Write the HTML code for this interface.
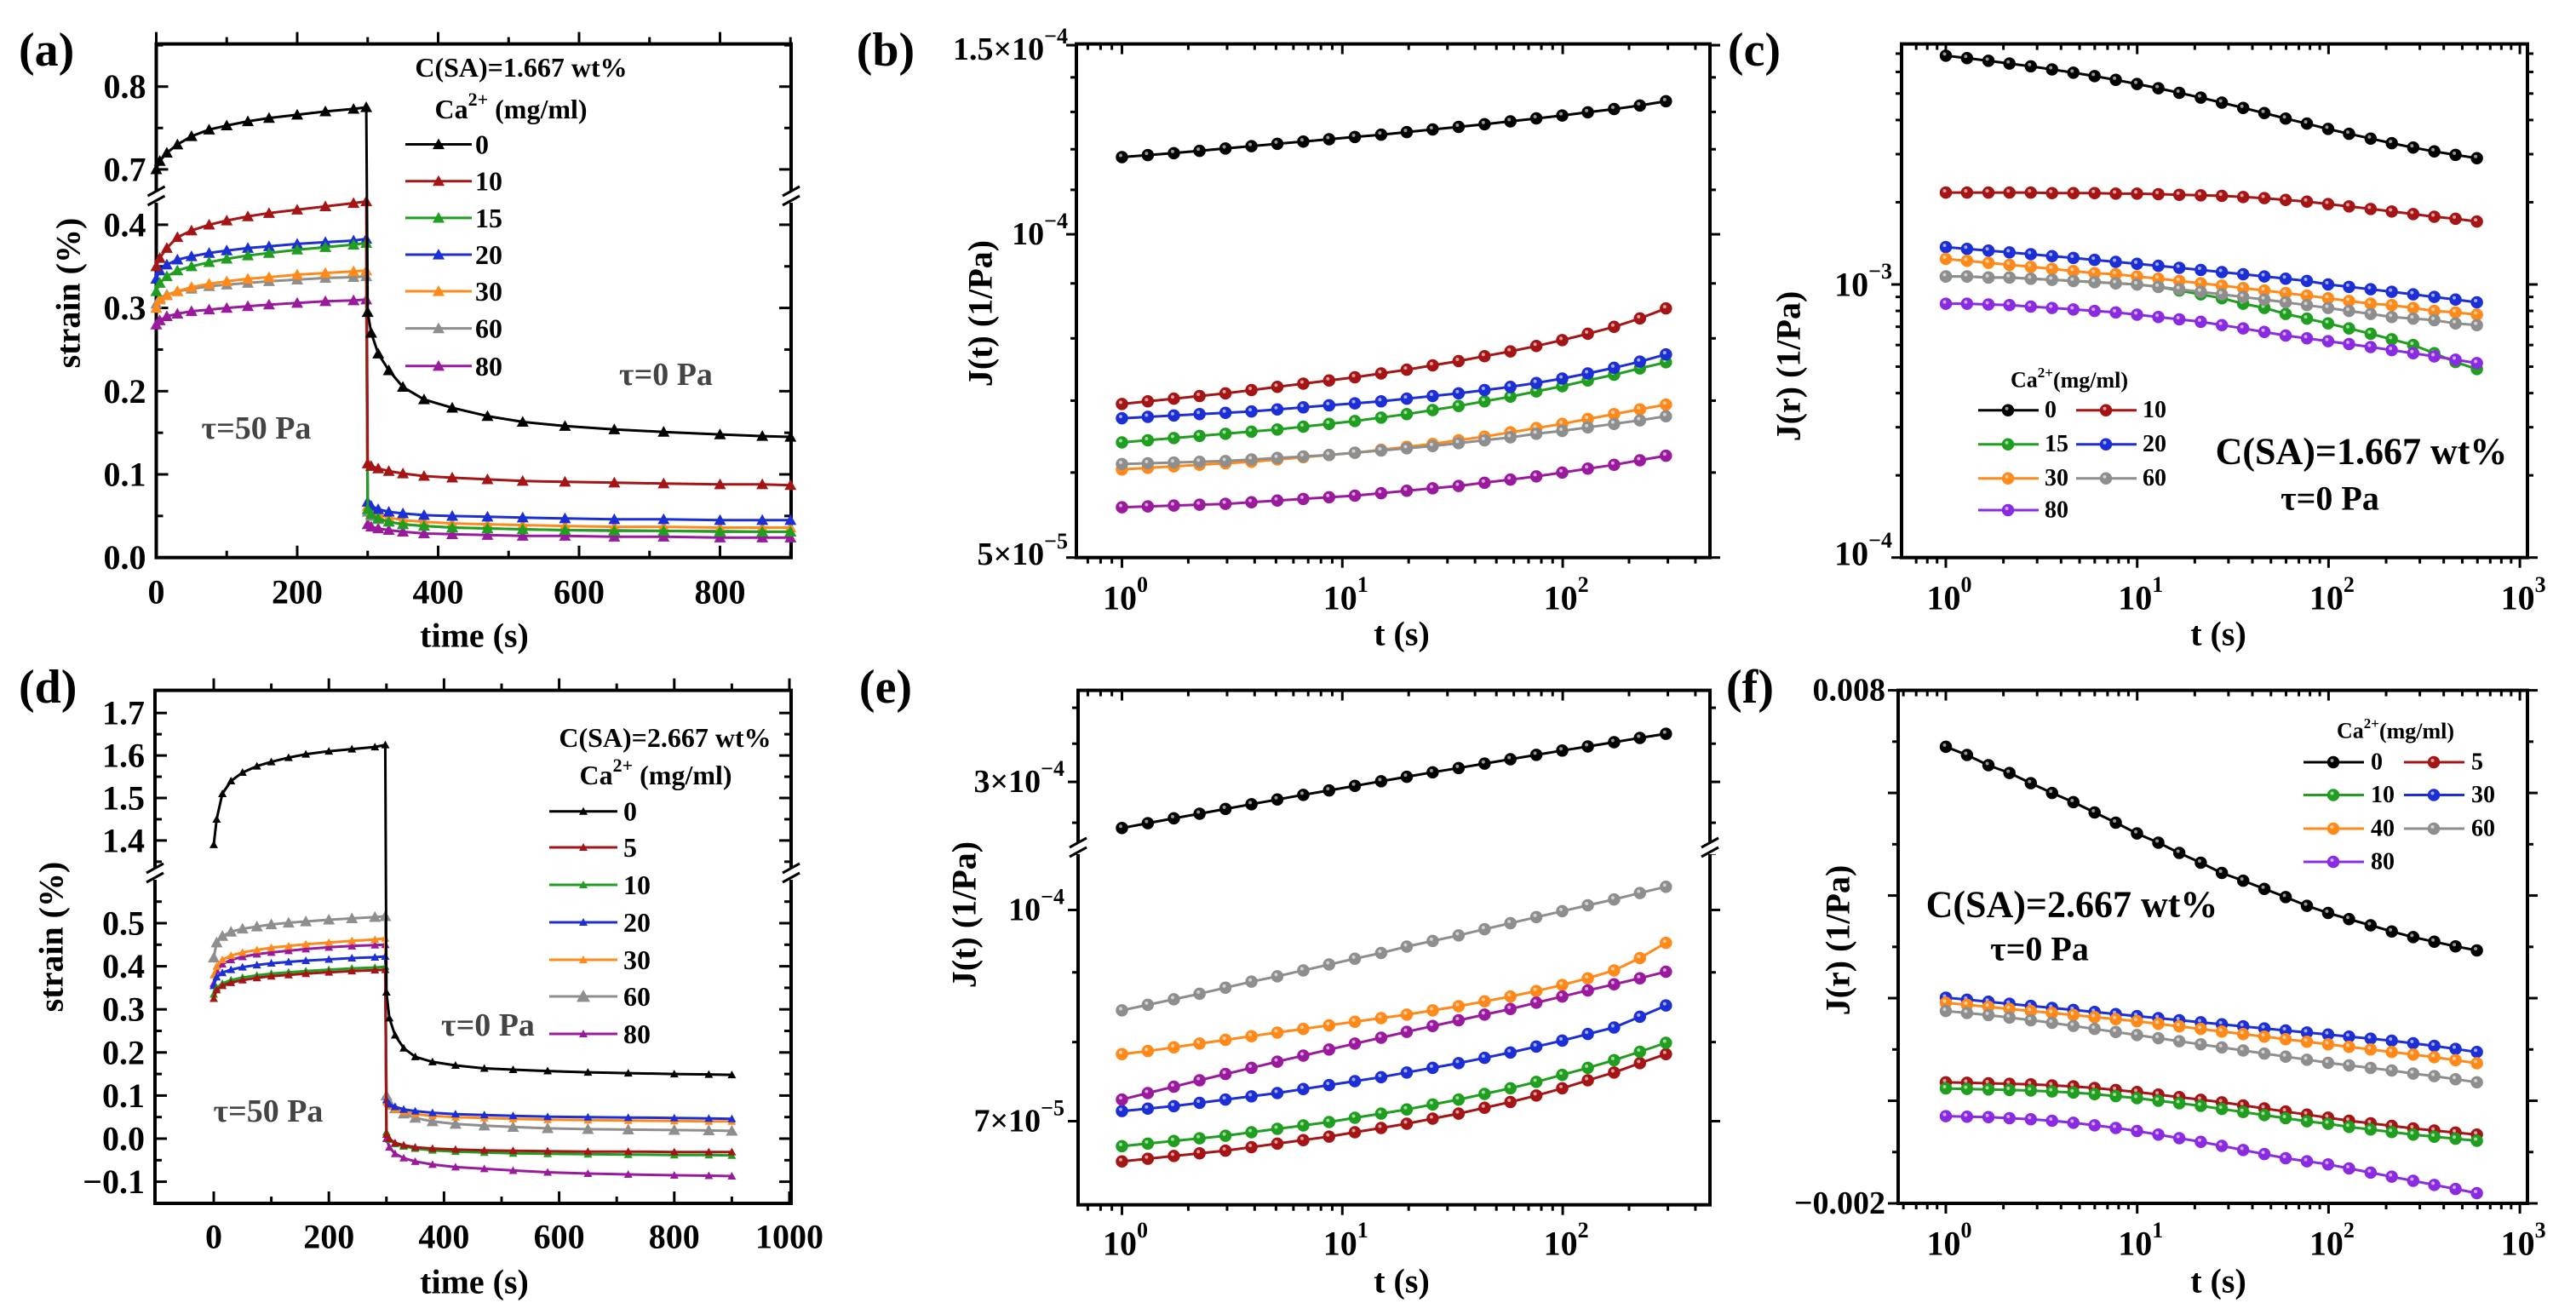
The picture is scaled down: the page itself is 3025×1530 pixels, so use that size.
<!DOCTYPE html>
<html><head><meta charset="utf-8"><title>Creep and recovery figure</title>
<style>html,body{margin:0;padding:0;background:#fff}svg{display:block}text{font-family:"Liberation Serif",serif;font-weight:bold;fill:#000}</style>
</head><body>
<svg id="fig" xmlns="http://www.w3.org/2000/svg" width="3025" height="1530" viewBox="0 0 3025 1530"></svg>
<script>
// ---------- DATA ----------
const tCR = [0,5,15,30,50,75,100,130,160,200,240,280,298,300,305,315,330,350,380,420,470,520,580,650,720,800,860,900];
const concA = ['0','10','15','20','30','60','80'];
const aS0  = [0.700,0.710,0.720,0.730,0.740,0.748,0.753,0.758,0.762,0.766,0.770,0.773,0.775, 0.295,0.270,0.245,0.225,0.205,0.190,0.180,0.170,0.163,0.158,0.154,0.151,0.148,0.146,0.145];
const aS10 = [0.350,0.360,0.372,0.385,0.393,0.400,0.405,0.410,0.414,0.418,0.422,0.426,0.428, 0.113,0.110,0.107,0.104,0.101,0.098,0.096,0.094,0.092,0.091,0.090,0.089,0.088,0.088,0.087];
const aS15 = [0.320,0.330,0.338,0.345,0.350,0.355,0.359,0.363,0.366,0.370,0.373,0.376,0.378, 0.058,0.052,0.047,0.043,0.040,0.038,0.036,0.035,0.034,0.033,0.032,0.032,0.031,0.031,0.031];
const aS20 = [0.335,0.345,0.352,0.358,0.362,0.366,0.369,0.372,0.374,0.377,0.379,0.381,0.383, 0.067,0.062,0.058,0.055,0.053,0.051,0.050,0.049,0.048,0.047,0.046,0.046,0.045,0.045,0.045];
const aS30 = [0.300,0.310,0.315,0.320,0.325,0.329,0.332,0.335,0.337,0.340,0.342,0.344,0.345, 0.062,0.057,0.052,0.048,0.045,0.043,0.041,0.040,0.039,0.038,0.037,0.037,0.036,0.036,0.036];
const aS60 = [0.305,0.312,0.316,0.320,0.323,0.326,0.328,0.330,0.332,0.334,0.336,0.337,0.338, 0.055,0.050,0.046,0.043,0.040,0.038,0.036,0.035,0.034,0.033,0.033,0.032,0.032,0.031,0.031];
const aS80 = [0.280,0.285,0.290,0.293,0.296,0.298,0.300,0.302,0.304,0.306,0.308,0.309,0.310, 0.040,0.037,0.035,0.033,0.031,0.029,0.028,0.027,0.026,0.026,0.025,0.025,0.024,0.024,0.024];

const concD = ['0','5','10','20','30','60','80'];
const dS0  = [1.39,1.45,1.51,1.54,1.56,1.575,1.585,1.595,1.603,1.610,1.615,1.620,1.625, 0.340,0.280,0.240,0.210,0.190,0.178,0.170,0.163,0.160,0.157,0.154,0.152,0.150,0.149,0.148];
const dS5  = [0.325,0.345,0.355,0.362,0.368,0.373,0.377,0.380,0.383,0.386,0.389,0.391,0.392, 0.010,0.000,-0.010,-0.015,-0.020,-0.023,-0.025,-0.027,-0.028,-0.029,-0.030,-0.030,-0.031,-0.031,-0.031];
const dS10 = [0.335,0.350,0.360,0.368,0.374,0.379,0.383,0.386,0.389,0.392,0.395,0.397,0.399, 0.015,-0.002,-0.012,-0.018,-0.023,-0.027,-0.030,-0.032,-0.034,-0.035,-0.036,-0.037,-0.038,-0.038,-0.039];
const dS20 = [0.355,0.375,0.385,0.392,0.398,0.403,0.407,0.410,0.413,0.416,0.419,0.421,0.423, 0.090,0.080,0.074,0.068,0.064,0.060,0.057,0.055,0.053,0.051,0.050,0.049,0.048,0.047,0.046];
const dS30 = [0.380,0.400,0.415,0.425,0.432,0.438,0.443,0.447,0.451,0.455,0.459,0.462,0.465, 0.085,0.075,0.068,0.062,0.057,0.053,0.050,0.048,0.046,0.044,0.043,0.042,0.041,0.040,0.040];
const dS60 = [0.420,0.455,0.470,0.480,0.487,0.492,0.497,0.501,0.504,0.508,0.511,0.514,0.516, 0.100,0.085,0.070,0.058,0.048,0.040,0.034,0.030,0.027,0.024,0.022,0.021,0.020,0.019,0.018];
const dS80 = [0.360,0.390,0.405,0.415,0.422,0.428,0.432,0.436,0.440,0.444,0.447,0.449,0.450, 0.000,-0.020,-0.035,-0.045,-0.053,-0.060,-0.066,-0.070,-0.074,-0.078,-0.081,-0.083,-0.085,-0.086,-0.087];

const tJ = [1,1.31,1.72,2.25,2.95,3.87,5.07,6.65,8.71,11.4,15,19.6,25.7,33.7,44.2,57.9,75.9,99.5,130,171,224,294];
const bS0  = [11.80,11.85,11.90,11.96,12.02,12.08,12.14,12.20,12.26,12.32,12.38,12.45,12.52,12.59,12.66,12.74,12.82,12.90,12.99,13.08,13.18,13.30];
const bS10 = [6.95,6.99,7.03,7.07,7.11,7.16,7.21,7.26,7.31,7.36,7.42,7.48,7.55,7.62,7.70,7.78,7.87,7.97,8.08,8.20,8.35,8.53];
const bS15 = [6.40,6.43,6.46,6.49,6.52,6.55,6.58,6.62,6.66,6.70,6.75,6.80,6.86,6.92,6.99,7.06,7.14,7.22,7.31,7.40,7.50,7.60];
const bS20 = [6.74,6.76,6.78,6.80,6.82,6.84,6.87,6.90,6.93,6.96,6.99,7.03,7.07,7.11,7.16,7.21,7.27,7.34,7.42,7.51,7.61,7.73];
const bS30 = [6.04,6.06,6.08,6.10,6.12,6.14,6.17,6.20,6.23,6.26,6.30,6.34,6.38,6.43,6.48,6.54,6.60,6.66,6.73,6.80,6.87,6.94];
const bS60 = [6.11,6.12,6.13,6.14,6.15,6.17,6.19,6.21,6.23,6.26,6.29,6.32,6.35,6.39,6.43,6.47,6.52,6.56,6.61,6.66,6.71,6.77];
const bS80 = [5.57,5.58,5.59,5.60,5.61,5.63,5.65,5.67,5.69,5.71,5.74,5.77,5.80,5.83,5.87,5.91,5.95,6.00,6.05,6.10,6.16,6.22];

const eS0  = [27.75,27.98,28.21,28.43,28.66,28.89,29.12,29.35,29.57,29.80,30.03,30.26,30.49,30.71,30.94,31.17,31.40,31.63,31.85,32.08,32.31,32.54];
const eS5  = [6.54,6.57,6.60,6.63,6.66,6.70,6.74,6.78,6.82,6.87,6.92,6.97,7.03,7.09,7.16,7.23,7.31,7.40,7.50,7.60,7.72,7.84];
const eS10 = [6.71,6.74,6.77,6.80,6.83,6.87,6.91,6.95,6.99,7.04,7.09,7.14,7.20,7.26,7.33,7.40,7.48,7.57,7.66,7.76,7.87,7.99];
const eS20 = [7.12,7.15,7.18,7.22,7.26,7.30,7.34,7.39,7.44,7.49,7.54,7.60,7.66,7.72,7.79,7.86,7.94,8.02,8.11,8.20,8.35,8.51];
const eS30 = [7.84,7.88,7.93,7.98,8.03,8.08,8.13,8.18,8.23,8.28,8.33,8.38,8.44,8.50,8.57,8.64,8.72,8.81,8.91,9.03,9.22,9.46];
const eS60 = [8.44,8.52,8.60,8.68,8.77,8.86,8.94,9.03,9.12,9.21,9.30,9.40,9.49,9.58,9.68,9.78,9.88,9.98,10.08,10.18,10.29,10.40];
const eS80 = [7.26,7.34,7.42,7.50,7.58,7.66,7.74,7.82,7.90,7.98,8.06,8.14,8.22,8.30,8.38,8.46,8.55,8.64,8.73,8.82,8.91,9.01];

const tR = [1,1.29,1.67,2.15,2.78,3.59,4.64,5.99,7.73,9.98,12.9,16.6,21.5,27.7,35.8,46.2,59.7,77.1,99.5,128,166,214,277,357,461,596];
const cS0  = [68.8,67.4,65.9,64.4,62.9,61.3,59.6,57.9,56.1,54.2,52.3,50.3,48.3,46.3,44.3,42.4,40.5,38.8,37.1,35.6,34.2,32.9,31.7,30.7,29.8,29.0];
const cS10 = [21.7,21.7,21.7,21.7,21.7,21.6,21.6,21.6,21.5,21.5,21.4,21.3,21.2,21.1,20.9,20.7,20.4,20.1,19.7,19.3,18.9,18.5,18.1,17.7,17.4,17.0];
const cS15 = [10.7,10.7,10.6,10.6,10.5,10.4,10.3,10.2,10.1,10.0,9.8,9.5,9.2,8.9,8.5,8.2,7.8,7.5,7.2,6.9,6.6,6.3,6.0,5.6,5.2,4.9];
const cS20 = [13.7,13.5,13.3,13.1,12.9,12.7,12.5,12.3,12.1,11.9,11.7,11.5,11.3,11.1,10.9,10.7,10.5,10.3,10.0,9.8,9.6,9.4,9.2,9.0,8.8,8.6];
const cS30 = [12.4,12.2,12.0,11.8,11.6,11.4,11.2,11.0,10.9,10.7,10.5,10.3,10.1,9.9,9.7,9.5,9.3,9.1,8.9,8.7,8.5,8.4,8.2,8.0,7.9,7.75];
const cS60 = [10.7,10.7,10.6,10.6,10.5,10.4,10.3,10.2,10.1,10.0,9.8,9.6,9.4,9.2,9.0,8.8,8.6,8.4,8.2,8.0,7.8,7.6,7.5,7.4,7.2,7.1];
const cS80 = [8.5,8.5,8.45,8.4,8.3,8.2,8.1,8.0,7.9,7.75,7.6,7.45,7.3,7.1,6.9,6.7,6.5,6.35,6.2,6.05,5.9,5.75,5.6,5.45,5.3,5.15];

const fS0  = [6.90,6.74,6.54,6.39,6.19,6.00,5.82,5.62,5.42,5.21,5.03,4.83,4.64,4.44,4.29,4.13,3.97,3.80,3.66,3.54,3.42,3.30,3.19,3.10,3.01,2.93];
const fS5  = [0.36,0.35,0.34,0.33,0.32,0.30,0.28,0.25,0.21,0.17,0.12,0.07,0.02,-0.03,-0.09,-0.15,-0.21,-0.27,-0.33,-0.39,-0.44,-0.49,-0.54,-0.58,-0.62,-0.66];
const fS10 = [0.24,0.23,0.22,0.21,0.20,0.18,0.16,0.13,0.09,0.05,0.00,-0.05,-0.10,-0.16,-0.22,-0.28,-0.34,-0.40,-0.45,-0.51,-0.56,-0.61,-0.66,-0.70,-0.74,-0.78];
const fS30 = [2.01,1.97,1.93,1.89,1.85,1.81,1.77,1.73,1.69,1.65,1.61,1.57,1.53,1.49,1.45,1.41,1.37,1.33,1.29,1.25,1.21,1.17,1.12,1.07,1.01,0.95];
const fS40 = [1.91,1.87,1.83,1.79,1.75,1.71,1.67,1.63,1.59,1.55,1.50,1.45,1.40,1.35,1.30,1.25,1.20,1.15,1.10,1.05,1.00,0.95,0.90,0.85,0.79,0.73];
const fS60 = [1.75,1.71,1.67,1.62,1.57,1.52,1.46,1.40,1.34,1.28,1.22,1.16,1.10,1.04,0.98,0.92,0.86,0.80,0.74,0.69,0.64,0.59,0.53,0.48,0.42,0.36];
const fS80 = [-0.30,-0.31,-0.32,-0.34,-0.36,-0.39,-0.43,-0.48,-0.53,-0.59,-0.66,-0.73,-0.80,-0.88,-0.96,-1.04,-1.12,-1.18,-1.24,-1.32,-1.40,-1.48,-1.56,-1.64,-1.72,-1.80];

const yTicksALow = [0,0.1,0.2,0.3,0.4];
const yTicksAUp = [0.7,0.8];
const yTicksDLow = [-0.1,0,0.1,0.2,0.3,0.4,0.5];
const yTicksDUp = [1.4,1.5,1.6,1.7];

// ---------- STYLE ----------
const K='#000000', R='#a51515', G='#1f9e1f', B='#1c2fd6', O='#ff8a1a', Y='#8e8e8e', P='#9a1a9e', V='#8a2be2';
const NS='http://www.w3.org/2000/svg';
const svg=document.getElementById('fig');

function mk(tag, attrs, parent){
  const e=document.createElementNS(NS,tag);
  for(const k in attrs) e.setAttribute(k,attrs[k]);
  (parent||svg).appendChild(e);
  return e;
}
function txt(x,y,html,size,anchor,name,fill,rot){
  const t=mk('text',{x:x,y:y,'font-size':size,'text-anchor':anchor||'middle','dominant-baseline':'central'});
  if(fill) t.setAttribute('style','fill:'+fill);
  if(rot) t.setAttribute('transform','rotate(-90 '+x+' '+y+')');
  t.innerHTML=html;
  
  
  return t;
}
function sup(s,sz,dy){return '<tspan dy="'+(-dy)+'" font-size="'+sz+'">'+s+'</tspan>';}
function line(x1,y1,x2,y2,w,c,g){return mk('line',{x1:x1,y1:y1,x2:x2,y2:y2,stroke:c||'#000','stroke-width':w},g);}

function frame(x0,y0,x1,y1,name){
  const r=mk('rect',{x:x0,y:y0,width:x1-x0,height:y1-y0,fill:'none',stroke:'#000','stroke-width':4});
  
  
}
function xTick(x,y0,y1,len){line(x,y1,x,y1+len,3);line(x,y0,x,y0+len,3);}
function yTick(y,x0,x1,len){line(x0,y,x0-len,y,3);line(x1,y,x1-len,y,3);}
function breakMark(x,y){
  mk('rect',{x:x-9,y:y-7,width:18,height:14,fill:'#fff'});
  line(x-10,y-1,x+10,y-12,3);
  line(x-10,y+10,x+10,y-1,3);
}
function tri(x,y,s,c,g){return mk('path',{d:'M'+(x-s)+' '+(y+s*0.8)+' L'+x+' '+(y-s)+' L'+(x+s)+' '+(y+s*0.8)+' Z',fill:c},g);}
function dot(x,y,c,g){mk('circle',{cx:x,cy:y,r:6.5,fill:c,stroke:c,'stroke-width':1.5},g);mk('circle',{cx:x-1.5,cy:y-2,r:2,fill:'#fff','fill-opacity':0.6},g);}

function series(xs,ys,fx,fy,c,name,marker,ms){
  const g=mk('g',{});
  
  
  const pts=xs.map((x,i)=>fx(x).toFixed(1)+','+fy(ys[i]).toFixed(1)).join(' ');
  mk('polyline',{points:pts,fill:'none',stroke:c,'stroke-width':3,'stroke-linejoin':'round'},g);
  xs.forEach((x,i)=>{ if(marker==='tri') tri(fx(x),fy(ys[i]),ms,c,g); else dot(fx(x),fy(ys[i]),c,g); });
}

// ================= PANEL A =================
(function(){
  const x0=183.5,x1=929,y0=51.6,y1=654.7;
  const fx=v=>183.5+v*(845.5-183.5)/800;
  const fy=v=> v>0.55 ? 198.9-(v-0.7)*972 : 654.7-v*977;
  frame(x0,y0,x1,y1,'panel-a-frame');
  for(let v=0;v<=900;v+=100){xTick(fx(v),y0,y1,v%200===0?-14:-8);}
  [0,200,400,600,800].forEach(v=>txt(fx(v),695,String(v),40,'middle','x-tick-label-a'));
  for(let v=0;v<=0.41;v+=0.05){yTick(fy(v),x0+(Math.round(v*100)%10===0?14:8),x1,Math.round(v*100)%10===0?14:8);}
  [0.75,0.8,0.85].forEach(v=>yTick(fy(v),x0+(v===0.8?14:8),x1,v===0.8?14:8));
  yTick(fy(0.7),x0+14,x1,14);
  yTicksALow.forEach(v=>txt(x0-12,fy(v),v.toFixed(1),40,'end','y-tick-label-a'));
  yTicksAUp.forEach(v=>txt(x0-12,fy(v),v.toFixed(1),40,'end','y-tick-label-a'));
  const cols=[K,R,G,B,O,Y,P];
  const ser=[aS0,aS10,aS15,aS20,aS30,aS60,aS80];
  for(let i=ser.length-1;i>=0;i--) series(tCR,ser[i],fx,fy,cols[i],'series-a-'+concA[i],'tri',7);
  breakMark(x0,231);breakMark(x1,231);
  txt(22,59,'(a)',56,'start','panel-label-a');
  txt(80,344,'strain (%)',40,'middle','y-axis-title-a',null,true);
  txt(557,746,'time (s)',40,'middle','x-axis-title-a');
  txt(612,79,'C(SA)=1.667 wt%',32,'middle','legend-title-a');
  txt(600,128,'Ca'+sup('2+',22,12)+'<tspan dy="12"> (mg/ml)</tspan>',32,'middle','legend-subtitle-a');
  const ly=[169.5,212.7,255.9,299,342,385.6,429.8];
  concA.forEach((c,i)=>{
    const g=mk('g',{});
    
    
    line(476,ly[i],554,ly[i],3,cols[i],g);tri(515,ly[i],7,cols[i],g);
    txt(558,ly[i],c,32,'start','legend-label-a');
  });
  txt(782,440,'τ=0 Pa',38,'middle','annotation-recovery-a','#444');
  txt(301,503,'τ=50 Pa',38,'middle','annotation-creep-a','#444');
})();

function logX(x){return 1317.5+Math.log10(x)*258.8;}
function logXc(x){return 2285+Math.log10(x)*224.7;}
function logXTicks(fx,xmin,xmax,y0,y1){
  for(let d=-1;d<=3;d++)for(let m=1;m<10;m++){const v=m*Math.pow(10,d);const x=fx(v);if(x<xmin+3||x>xmax-3)continue;
    const L=m===1?12:7; line(x,y1,x,y1+L,3); line(x,y0,x,y0+L,3);}
}
// ================= PANEL B =================
(function(){
  const x0=1264,x1=2008,y0=51.6,y1=654.7;
  const fy=v=>654.7-Math.log10(v/5)*1261;
  frame(x0,y0,x1,y1,'panel-b-frame');
  logXTicks(logX,x0,x1,y0,y1);
  [5,6,7,8,9,10,11,12,13,14,15].forEach(v=>{const maj=(v===5||v===10||v===15);line(x0,fy(v),x0-(maj?12:7),fy(v),3);line(x1,fy(v),x1+(maj?12:7),fy(v),3);});
  txt(1254,58,'1.5×10'+sup('−4',26,16),38,'end','y-tick-label-b');
  txt(1254,fy(10),'10'+sup('−4',26,16),38,'end','y-tick-label-b');
  txt(1254,651,'5×10'+sup('−5',26,16),38,'end','y-tick-label-b');
  [0,1,2].forEach(e=>txt(logX(Math.pow(10,e))+4,702,'10'+sup(String(e),26,16),40,'middle','x-tick-label-b'));
  const cols=[K,R,G,B,O,Y,P];
  const ser=[bS0,bS10,bS15,bS20,bS30,bS60,bS80];
  ser.forEach((s,i)=>series(tJ,s,logX,fy,cols[i],'series-b-'+concA[i],'dot'));
  txt(1040,59,'(b)',56,'middle','panel-label-b');
  txt(1151,368,'J(t) (1/Pa)',40,'middle','y-axis-title-b',null,true);
  txt(1646,744,'t (s)',40,'middle','x-axis-title-b');
})();

// ================= PANEL C =================
(function(){
  const x0=2233,x1=2968,y0=51.6,y1=654.7;
  const fy=v=>334-Math.log10(v/10)*320.7;
  frame(x0,y0,x1,y1,'panel-c-frame');
  logXTicks(logXc,x0,x1,y0,y1);
  [1,2,3,4,5,6,7,8,9,10,20,30,40,50,60,70].forEach(v=>{const maj=(v===1||v===10);const y=fy(v);if(y<y0+3)return;line(x0,y,x0-(maj?12:7),y,3);line(x1,y,x1+(maj?12:7),y,3);});
  txt(2222,fy(10),'10'+sup('−3',26,16),40,'end','y-tick-label-c');
  txt(2222,650,'10'+sup('−4',26,16),40,'end','y-tick-label-c');
  [0,1,2,3].forEach(e=>txt(logXc(Math.pow(10,e))+4,702,'10'+sup(String(e),26,16),40,'middle','x-tick-label-c'));
  const conc=['0','10','15','20','30','60','80'];
  const cols=[K,R,G,B,O,Y,V];
  const ser=[cS0,cS10,cS15,cS20,cS30,cS60,cS80];
  ser.forEach((s,i)=>series(tR,s,logXc,fy,cols[i],'series-c-'+conc[i],'dot'));
  txt(2060,59,'(c)',56,'middle','panel-label-c');
  txt(2100,430,'J(r) (1/Pa)',40,'middle','y-axis-title-c',null,true);
  txt(2605,744,'t (s)',40,'middle','x-axis-title-c');
  txt(2430,446,'Ca'+sup('2+',17,9)+'<tspan dy="9">(mg/ml)</tspan>',26,'middle','legend-title-c');
  const pos=[[2323,481.7],[2438,481.7],[2323,521.7],[2438,521.7],[2323,561.7],[2438,561.7],[2323,599]];
  conc.forEach((c,i)=>{
    const g=mk('g',{});
    
    
    const [lx,ly]=pos[i];
    line(lx,ly,lx+71,ly,3,cols[i],g);dot(lx+35,ly,cols[i],g);
    txt(lx+78,ly,c,28,'start','legend-label-c');
  });
  txt(2773,530,'C(SA)=1.667 wt%',44,'middle','condition-label-c');
  txt(2736,585,'τ=0 Pa',40,'middle','stress-label-c');
})();

// ================= PANEL D =================
(function(){
  const x0=182,x1=929,y0=810.6,y1=1413;
  const fx=v=>251+v*0.676;
  const fy=v=> v>0.9 ? 986.9-(v-1.4)*499 : 1337-v*506;
  frame(x0,y0,x1,y1,'panel-d-frame');
  for(let v=-100;v<=1000;v+=100){const x=fx(v);if(x<x0+2||x>x1-2)continue;xTick(x,y0,y1,v%200===0?-14:-8);}
  [0,200,400,600,800,1000].forEach(v=>txt(fx(v),1452,String(v),40,'middle','x-tick-label-d'));
  for(let k=-3;k<=11;k++){const v=k*0.05;const maj=k%2===0;const y=fy(v);if(y>y1-3)continue;yTick(y,x0+(maj?14:8),x1,maj?14:8);}
  for(let k=27;k<=35;k++){const v=k*0.05;const maj=k%2===0;const y=fy(v);if(y<y0+3)continue;yTick(y,x0+(maj?14:8),x1,maj?14:8);}
  yTicksDLow.forEach(v=>txt(x0-12,fy(v),(v<0?'−':'')+Math.abs(v).toFixed(1),40,'end','y-tick-label-d'));
  yTicksDUp.forEach(v=>txt(x0-12,fy(v),v.toFixed(1),40,'end','y-tick-label-d'));
  const cols=[K,R,G,B,O,Y,P];
  const ser=[dS0,dS5,dS10,dS20,dS30,dS60,dS80];
  for(let i=ser.length-1;i>=0;i--) series(tCR,ser[i],fx,fy,cols[i],'series-d-'+concD[i],'tri',i===5?7:5);
  breakMark(x0,1026);breakMark(x1,1026);
  txt(22,807,'(d)',56,'start','panel-label-d');
  txt(60,1100,'strain (%)',40,'middle','y-axis-title-d',null,true);
  txt(557,1505,'time (s)',40,'middle','x-axis-title-d');
  txt(781,866,'C(SA)=2.667 wt%',32,'middle','legend-title-d');
  txt(770,910,'Ca'+sup('2+',22,12)+'<tspan dy="12"> (mg/ml)</tspan>',32,'middle','legend-subtitle-d');
  const ly=[952.7,995,1039,1083,1127,1170,1214];
  concD.forEach((c,i)=>{
    const g=mk('g',{});
    
    
    line(645,ly[i],725,ly[i],3,cols[i],g);tri(685,ly[i],i===5?8:5,cols[i],g);
    txt(732,ly[i],c,32,'start','legend-label-d');
  });
  txt(573,1204,'τ=0 Pa',38,'middle','annotation-recovery-d','#444');
  txt(315,1305,'τ=50 Pa',38,'middle','annotation-creep-d','#444');
})();

// ================= PANEL E =================
(function(){
  const x0=1266,x1=2008,y0=810.6,y1=1414.7;
  const fy=v=> v>20 ? 918.1-Math.log10(v/30)*1601 : 1316.5-Math.log10(v/7)*1601;
  frame(x0,y0,x1,y1,'panel-e-frame');
  logXTicks(logX,x0,x1,y0,y1);
  [7,8,9,10,11].forEach(v=>{const maj=(v===7||v===10);const y=fy(v);line(x0,y,x0-(maj?12:7),y,3);line(x1,y,x1+(maj?12:7),y,3);});
  [28,30,32,34].forEach(v=>{const maj=v===30;const y=fy(v);line(x0,y,x0-(maj?12:7),y,3);line(x1,y,x1+(maj?12:7),y,3);});
  breakMark(x0,996);breakMark(x1,996);
  txt(1250,fy(30),'3×10'+sup('−4',26,16),38,'end','y-tick-label-e');
  txt(1250,fy(10),'10'+sup('−4',26,16),38,'end','y-tick-label-e');
  txt(1250,fy(7),'7×10'+sup('−5',26,16),38,'end','y-tick-label-e');
  [0,1,2].forEach(e=>txt(logX(Math.pow(10,e))+4,1460,'10'+sup(String(e),26,16),40,'middle','x-tick-label-e'));
  const cols=[K,R,G,B,O,Y,P];
  const ser=[eS0,eS5,eS10,eS20,eS30,eS60,eS80];
  ser.forEach((s,i)=>series(tJ,s,logX,fy,cols[i],'series-e-'+concD[i],'dot'));
  txt(1040,807,'(e)',56,'middle','panel-label-e');
  txt(1132,1074,'J(t) (1/Pa)',40,'middle','y-axis-title-e',null,true);
  txt(1646,1504,'t (s)',40,'middle','x-axis-title-e');
})();

// ================= PANEL F =================
(function(){
  const x0=2229,x1=2968,y0=810.6,y1=1413;
  const fy=v=>810.6+(8-v)*60.24;
  frame(x0,y0,x1,y1,'panel-f-frame');
  logXTicks(logXc,x0,x1,y0,y1);
  for(let v=-2;v<=8;v++){const maj=v%2===0;const y=fy(v);line(x0,y,x0-(maj?12:7),y,3);line(x1,y,x1+(maj?12:7),y,3);}
  txt(2214,fy(8),'0.008',38,'end','y-tick-label-f');
  txt(2214,fy(-2),'−0.002',38,'end','y-tick-label-f');
  [0,1,2,3].forEach(e=>txt(logXc(Math.pow(10,e))+4,1460,'10'+sup(String(e),26,16),40,'middle','x-tick-label-f'));
  const conc=['0','5','10','30','40','60','80'];
  const cols=[K,R,G,B,O,Y,V];
  const ser=[fS0,fS5,fS10,fS30,fS40,fS60,fS80];
  ser.forEach((s,i)=>series(tR,s,logXc,fy,cols[i],'series-f-'+conc[i],'dot'));
  txt(2055,807,'(f)',56,'middle','panel-label-f');
  txt(2158,1104,'J(r) (1/Pa)',40,'middle','y-axis-title-f',null,true);
  txt(2605,1504,'t (s)',40,'middle','x-axis-title-f');
  txt(2813,858,'Ca'+sup('2+',17,9)+'<tspan dy="9">(mg/ml)</tspan>',26,'middle','legend-title-f');
  const pos=[[2705,895],[2823,895],[2705,933.5],[2823,933.5],[2705,973],[2823,973],[2705,1012]];
  conc.forEach((c,i)=>{
    const g=mk('g',{});
    
    
    const [lx,ly]=pos[i];
    line(lx,ly,lx+71,ly,3,cols[i],g);dot(lx+35,ly,cols[i],g);
    txt(lx+79,ly,c,28,'start','legend-label-f');
  });
  txt(2433,1062,'C(SA)=2.667 wt%',44,'middle','condition-label-f');
  txt(2395,1114,'τ=0 Pa',40,'middle','stress-label-f');
})();
</script>
</body></html>
